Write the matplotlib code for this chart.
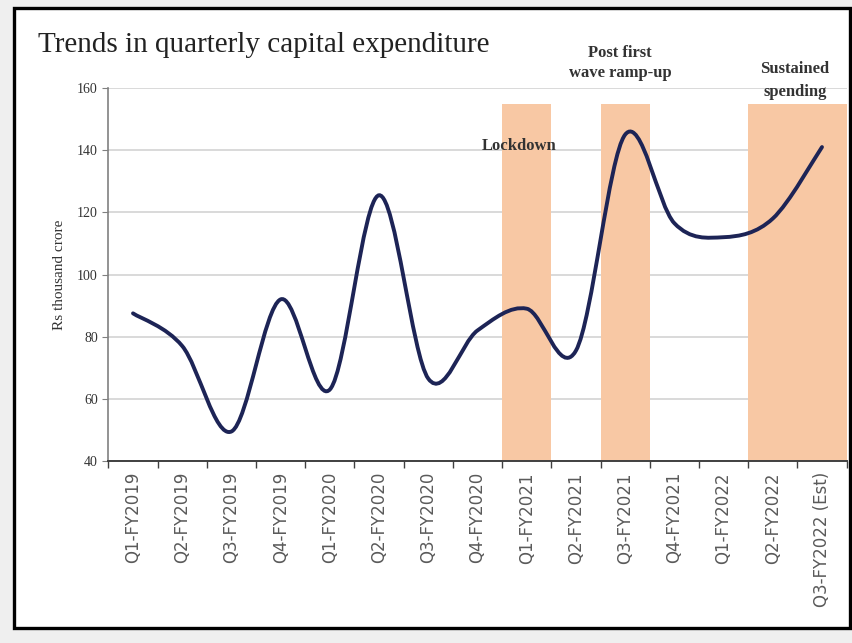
import numpy as np
import matplotlib
matplotlib.use("Agg")
import matplotlib.pyplot as plt
from matplotlib.path import Path
from matplotlib.patches import PathPatch, Rectangle

# quarters and capex (Rs thousand crore)
quarters = ["Q1-FY2019", "Q2-FY2019", "Q3-FY2019", "Q4-FY2019",
            "Q1-FY2020", "Q2-FY2020", "Q3-FY2020", "Q4-FY2020",
            "Q1-FY2021", "Q2-FY2021", "Q3-FY2021", "Q4-FY2021",
            "Q1-FY2022", "Q2-FY2022", "Q3-FY2022 (Est)"]
capex = [87.5, 77, 49.5, 92, 63, 125.5, 66.5, 82,
         89, 75.5, 145, 116.5, 112, 118, 141]

# shaded periods: (first quarter, last quarter)
periods = [("Q1-FY2021", "Q1-FY2021"),
           ("Q3-FY2021", "Q3-FY2021"),
           ("Q2-FY2022", "Q3-FY2022 (Est)")]
band_top = 155


def smooth_path(x, y):
    # catmull-rom style cubic bezier, like a smoothed excel line
    pts = np.column_stack([x, y]).astype(float)
    ext = np.vstack([pts[0], pts, pts[-1]])
    verts = [pts[0]]
    codes = [Path.MOVETO]
    for i in range(len(pts) - 1):
        p0, p1, p2, p3 = ext[i], ext[i + 1], ext[i + 2], ext[i + 3]
        c1 = p1 + (p2 - p0) / 6.0
        c2 = p2 - (p3 - p1) / 6.0
        verts += [c1, c2, p2]
        codes += [Path.CURVE4] * 3
    return Path(verts, codes)


fig = plt.figure(figsize=(8.53, 6.43), dpi=100)
fig.patch.set_facecolor("#efefef")

# white chart area with black frame, behind the axes
frame = Rectangle((14 / 853, 15 / 643), (850 - 14) / 853, (635 - 15) / 643,
                  transform=fig.transFigure, facecolor="white",
                  edgecolor="black", linewidth=2.4, zorder=-5)
fig.patches.append(frame)

ax = fig.add_axes([108.4 / 853, (643 - 461) / 643, 738.2 / 853, 373 / 643])
ax.set_facecolor("none")

xs = np.arange(len(quarters))

for start, end in periods:
    i0 = quarters.index(start)
    i1 = quarters.index(end)
    ax.add_patch(Rectangle((i0 - 0.5, 40), i1 - i0 + 1, band_top - 40,
                           facecolor="#f8c8a4", edgecolor="none", zorder=1))

ax.add_patch(PathPatch(smooth_path(xs, capex), facecolor="none",
                       edgecolor="#1d2456", linewidth=2.8,
                       capstyle="round", zorder=3))

ax.set_xlim(-0.5, len(quarters) - 0.5)
ax.set_ylim(40, 160)
ax.set_yticks(range(40, 161, 20))
ax.yaxis.grid(True, color="#d9d9d9", linewidth=1.4, zorder=0)
ax.set_axisbelow(True)

ax.set_xticks(xs)
ax.set_xticklabels(quarters, rotation=90, fontsize=12,
                   family="DejaVu Sans", color="#5a5a5a")
ax.set_xticks(np.arange(-0.5, len(quarters), 1), minor=True)
ax.tick_params(axis="x", which="major", length=0, pad=8)
ax.tick_params(axis="x", which="minor", length=5, color="#404040", width=1)
ax.tick_params(axis="y", length=4, color="#808080", labelsize=10,
               labelcolor="#333333")
for lab in ax.get_yticklabels():
    lab.set_family("Liberation Serif")

for side in ["top", "right"]:
    ax.spines[side].set_visible(False)
ax.spines["left"].set_color("#808080")
ax.spines["left"].set_linewidth(1.2)
ax.spines["bottom"].set_color("#404040")
ax.spines["bottom"].set_linewidth(1.4)

ax.set_ylabel("Rs thousand crore", family="Liberation Serif", fontsize=11,
              color="#333333", labelpad=8)

fig.text(38 / 853, 1 - 45 / 643, "Trends in quarterly capital expenditure",
         family="Liberation Serif", fontsize=21, color="#222222",
         va="center", ha="left")

serif_bold = dict(family="Liberation Serif", fontweight="bold", fontsize=12,
                  color="#333333", ha="center", va="center")
ax.text(7.85, 141.5, "Lockdown", **serif_bold)
ax.text(9.9, 168, "Post first\nwave ramp-up", linespacing=1.3,
        clip_on=False, **serif_bold)
ax.text(13.45, 162.5, "Sustained\nspending", linespacing=1.55,
        clip_on=False, **serif_bold)

fig.savefig("out.png", dpi=100, facecolor=fig.get_facecolor())
